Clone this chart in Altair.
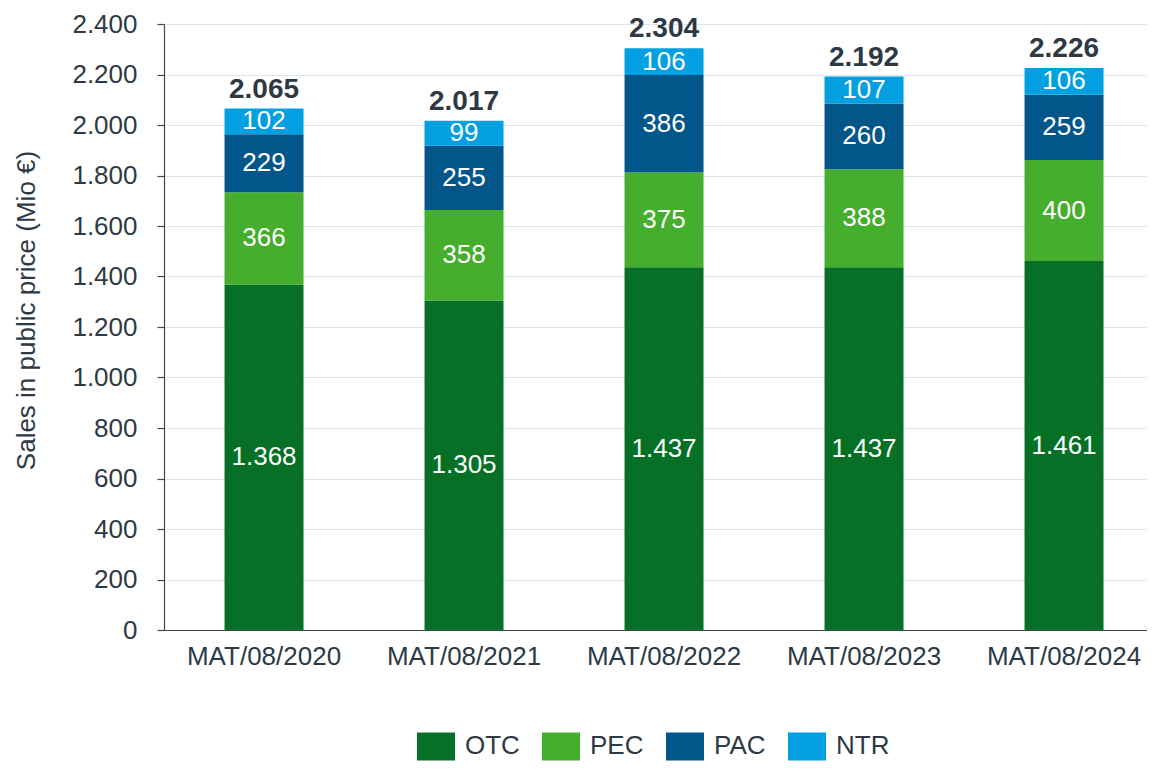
import altair as alt
import pandas as pd

FONT = "Liberation Sans"
TXT = "#2d3a45"
AX = "#3f4750"
GRID = "#dfe5ee"

periods = ["MAT/08/2020", "MAT/08/2021", "MAT/08/2022", "MAT/08/2023", "MAT/08/2024"]
series = ["OTC", "PEC", "PAC", "NTR"]
otc = [1368, 1305, 1437, 1437, 1461]
pec = [366, 358, 375, 388, 400]
pac = [229, 255, 386, 260, 259]
ntr = [102, 99, 106, 107, 106]
colors = ["#057026", "#45ae2c", "#03568a", "#02a0e0"]
y_ticks = [0, 200, 400, 600, 800, 1000, 1200, 1400, 1600, 1800, 2000, 2200, 2400]

rows = []
for i, p in enumerate(periods):
    for k, (s, vals) in enumerate(zip(series, [otc, pec, pac, ntr])):
        rows.append({"period": p, "series": s, "order": k, "value": vals[i]})
df = pd.DataFrame(rows)

fmt = "replace(format(datum.{f}, ',d'), ',', '.')"

x_enc = alt.X(
    "period:N",
    sort=periods,
    title=None,
    scale=alt.Scale(paddingInner=0.605, paddingOuter=0.26, align=0.582),
    axis=alt.Axis(
        labelAngle=0, ticks=False, labelFontSize=26, labelColor=TXT, labelFont=FONT,
        labelPadding=13, domainColor=AX, domainWidth=1.2, grid=False,
    ),
)

y_scale = alt.Scale(domain=[0, 2400], nice=False)

bars = alt.Chart(df).mark_bar().encode(
    x=x_enc,
    y=alt.Y(
        "value:Q",
        stack="zero",
        scale=y_scale,
        title="Sales in public price (Mio €)",
        axis=alt.Axis(
            values=y_ticks,
            labelExpr="replace(format(datum.value, ',d'), ',', '.')",
            labelFontSize=26, labelColor=TXT, labelFont=FONT, labelPadding=20,
            tickSize=7, tickColor=AX, domainColor=AX, domainWidth=1.2, tickWidth=1.2,
            grid=True, gridColor=GRID, gridWidth=1,
            titleFontSize=26, titleFont=FONT, titleColor=TXT, titleFontWeight="normal",
            titleX=-138, titleY=286, titleAngle=-90, titleAlign="center", titleBaseline="middle",
        ),
    ),
    color=alt.Color(
        "series:N",
        sort=series,
        scale=alt.Scale(domain=series, range=colors),
        legend=alt.Legend(
            title=None, orient="none", legendX=253, legendY=703, direction="horizontal",
            columns=4, labelFontSize=26, labelColor=TXT, labelFont=FONT, labelOffset=10,
            columnPadding=22, symbolType="M-1,-0.737L1,-0.737L1,0.737L-1,0.737Z",
            symbolSize=1444, symbolStrokeWidth=0, symbolOpacity=1,
        ),
    ),
    order=alt.Order("order:Q"),
)

seg = alt.Chart(df).transform_stack(
    stack="value", groupby=["period"], as_=["y0", "y1"],
    sort=[alt.SortField("order", order="ascending")],
).transform_calculate(
    mid="(datum.y0 + datum.y1) / 2",
    label=fmt.format(f="value"),
).mark_text(
    color="white", fontSize=26, font=FONT, baseline="middle", align="center",
).encode(
    x=alt.X("period:N", sort=periods),
    y=alt.Y("mid:Q", scale=y_scale),
    text="label:N",
)

tot = alt.Chart(df).transform_aggregate(
    total="sum(value)", groupby=["period"]
).transform_calculate(
    label=fmt.format(f="total")
).mark_text(
    color=TXT, fontSize=28, font=FONT, fontWeight="bold", baseline="alphabetic",
    align="center", dy=-11,
).encode(
    x=alt.X("period:N", sort=periods),
    y=alt.Y("total:Q", scale=y_scale),
    text="label:N",
)

chart = alt.layer(bars, seg, tot).properties(
    width=983,
    height=606,
    padding={"left": 156, "top": 16, "right": 0, "bottom": 131},
    autosize=alt.AutoSizeParams(type="none"),
).configure_view(stroke=None).configure(font=FONT)

chart.save("out.html", embed_options={"renderer": "svg", "actions": False})
